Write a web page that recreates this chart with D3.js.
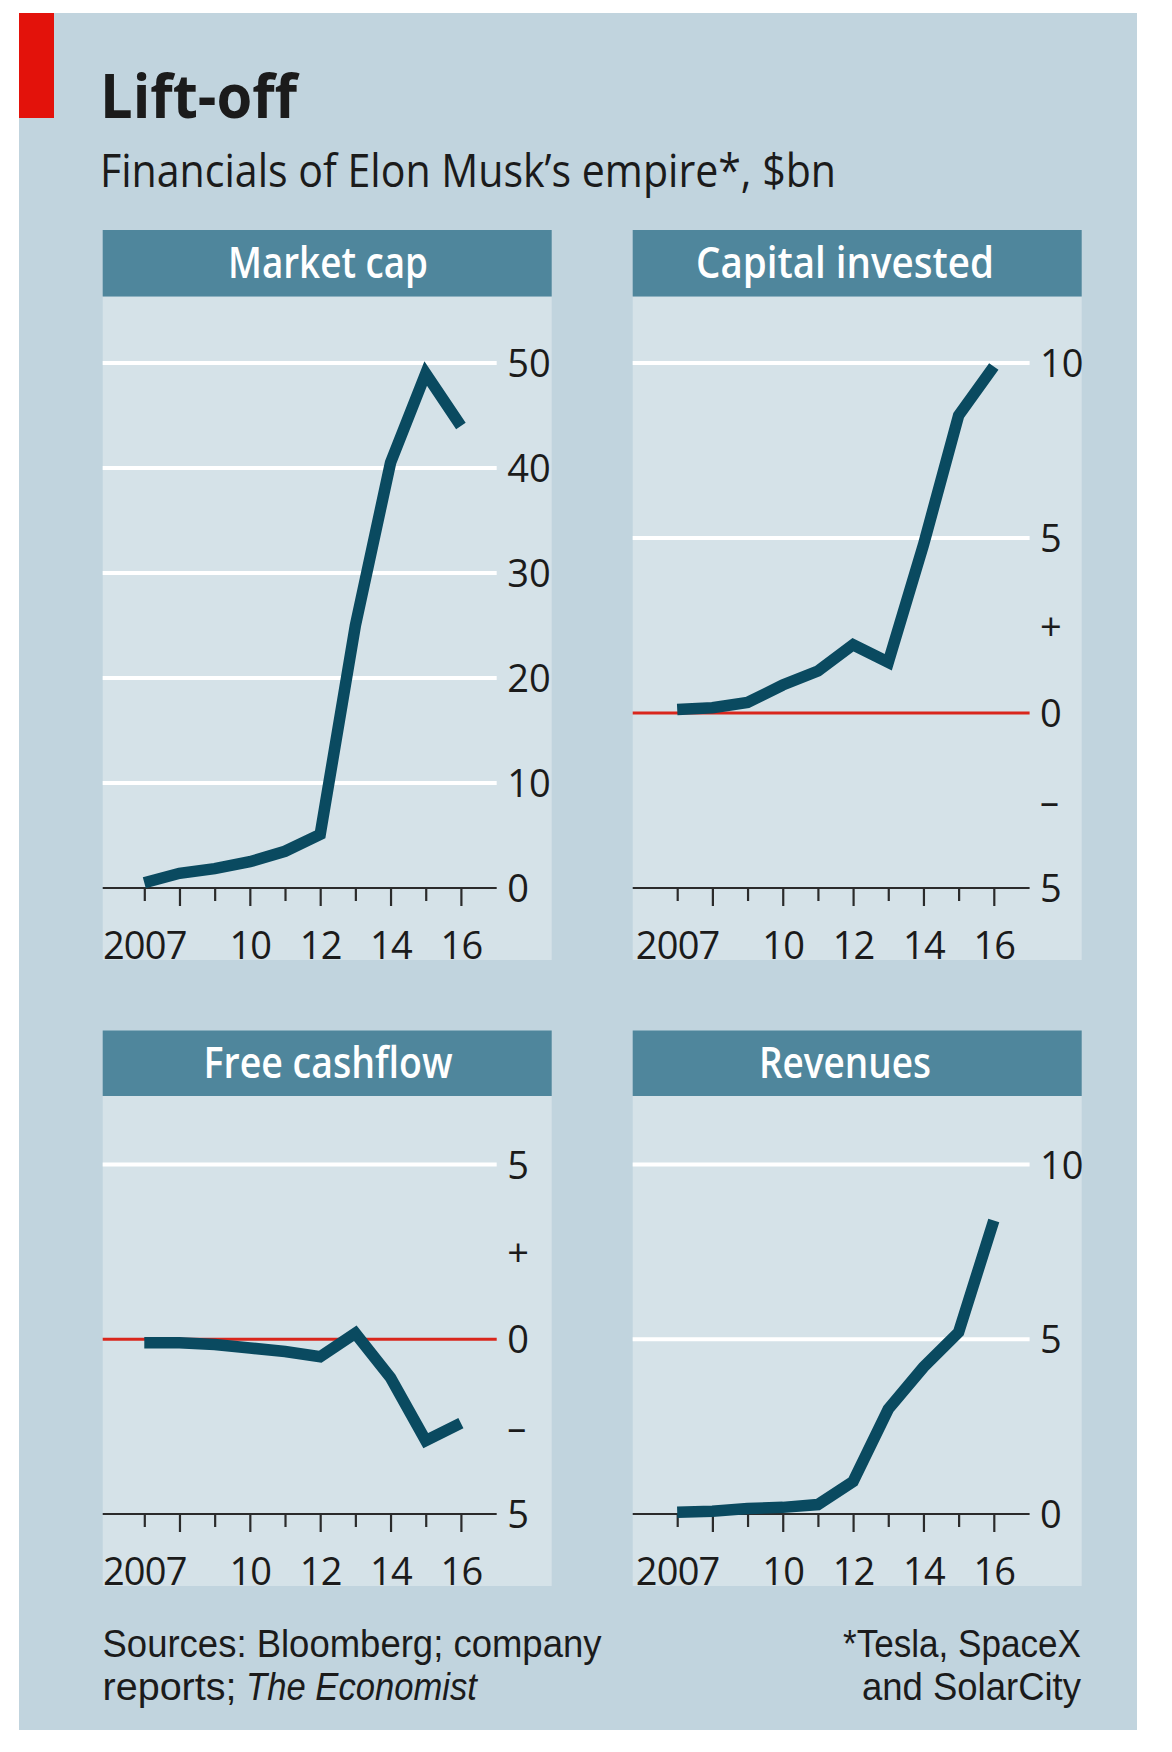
<!DOCTYPE html>
<html>
<head>
<meta charset="utf-8">
<script src="https://cdn.jsdelivr.net/npm/d3@7"></script>
<style>
  body { margin: 0; background: #ffffff; }
  svg { display: block; }
  text { font-family: "Open Sans", "Noto Sans", sans-serif; }
  text.foot { font-family: "Liberation Sans", Arial, sans-serif; }
</style>
</head>
<body>
<svg id="chart" width="1172" height="1752"></svg>
<script>
// ---------------- DATA ----------------
const years = [2007, 2008, 2009, 2010, 2011, 2012, 2013, 2014, 2015, 2016];
const yearLabels = {2007: "2007", 2010: "10", 2012: "12", 2014: "14", 2016: "16"};

const marketCap       = [0.5, 1.4, 1.85, 2.5, 3.5, 5.1, 25, 40.5, 49, 44];
const capitalInvested = [0.1, 0.15, 0.3, 0.8, 1.2, 1.95, 1.45, 4.8, 8.5, 9.9];
const freeCashflow    = [-0.1, -0.1, -0.15, -0.25, -0.35, -0.5, 0.17, -1.1, -2.9, -2.4];
const revenues        = [0.05, 0.08, 0.16, 0.19, 0.27, 0.93, 3.0, 4.2, 5.2, 8.4];

const marketCapTicks  = [0, 10, 20, 30, 40, 50];
const marketCapLabels = ["0", "10", "20", "30", "40", "50"];
const capitalTicks    = [-5, -2.5, 0, 2.5, 5, 10];
const capitalLabels   = ["5", "\u2013", "0", "+", "5", "10"];
const cashflowTicks   = [-5, -2.5, 0, 2.5, 5];
const cashflowLabels  = ["5", "\u2013", "0", "+", "5"];
const revenueTicks    = [0, 5, 10];
const revenueLabels   = ["0", "5", "10"];

const titleText    = "Lift-off";
const subtitleText = "Financials of Elon Musk\u2019s empire*, $bn";

// ---------------- STYLE / LAYOUT ----------------
const C = {
  outer: "#c1d4de", plot: "#d5e2e8", header: "#4f869c",
  line: "#0a4a60", red: "#e3120b", zero: "#d9261c", text: "#1b1b1b", axis: "#2b2b2b"
};
const cols = [
  {px: 102.7, cx: 102.7, hcx: 328},
  {px: 632.7, cx: 635.6, hcx: 845}
];
const rows = [
  {hy: 230, hb: 296.5, pb: 960, yTop: 363, yAxis: 888, tb: 278},
  {hy: 1030.5, hb: 1096, pb: 1586, yTop: 1164.5, yAxis: 1514, tb: 1077.5}
];
const panelW = 449;

const svg = d3.select("#chart");

svg.append("rect").attr("x", 19).attr("y", 13).attr("width", 1118).attr("height", 1717).attr("fill", C.outer);
svg.append("rect").attr("x", 19).attr("y", 13).attr("width", 35).attr("height", 105).attr("fill", C.red);

svg.append("text").attr("x", 100).attr("y", 118).attr("font-size", 60).attr("font-weight", 700)
  .attr("fill", C.text).attr("textLength", 197).attr("lengthAdjust", "spacingAndGlyphs").text(titleText);
svg.append("text").attr("x", 100).attr("y", 187).attr("font-size", 45)
  .attr("fill", C.text).attr("textLength", 736).attr("lengthAdjust", "spacingAndGlyphs").text(subtitleText);

const panels = [
  {name: "Market cap", col: 0, row: 0, values: marketCap, domain: [0, 50],
   ticks: marketCapTicks, labels: marketCapLabels, white: [10, 20, 30, 40, 50], redZero: false, hw: 200},
  {name: "Capital invested", col: 1, row: 0, values: capitalInvested, domain: [-5, 10],
   ticks: capitalTicks, labels: capitalLabels, white: [5, 10], redZero: true, hw: 298},
  {name: "Free cashflow", col: 0, row: 1, values: freeCashflow, domain: [-5, 5],
   ticks: cashflowTicks, labels: cashflowLabels, white: [5], redZero: true, hw: 249},
  {name: "Revenues", col: 1, row: 1, values: revenues, domain: [0, 10],
   ticks: revenueTicks, labels: revenueLabels, white: [5, 10], redZero: false, hw: 172}
];

panels.forEach(p => {
  const c = cols[p.col], r = rows[p.row];
  const g = svg.append("g");

  // backgrounds
  g.append("rect").attr("x", c.px).attr("y", r.hb).attr("width", panelW).attr("height", r.pb - r.hb).attr("fill", C.plot);
  g.append("rect").attr("x", c.px).attr("y", r.hy).attr("width", panelW).attr("height", r.hb - r.hy).attr("fill", C.header);
  g.append("text").attr("x", c.hcx).attr("y", r.tb).attr("text-anchor", "middle").attr("font-size", 43)
    .attr("font-weight", 600).attr("fill", "#ffffff")
    .attr("textLength", p.hw).attr("lengthAdjust", "spacingAndGlyphs").text(p.name);

  const x = d3.scaleLinear().domain([2007, 2016]).range([c.cx + 41.6, c.cx + 358.2]);
  const y = d3.scaleLinear().domain(p.domain).range([r.yAxis, r.yTop]);
  const gridEnd = c.cx + 394;

  // white gridlines
  g.selectAll(".grid").data(p.white).join("line")
    .attr("x1", c.px).attr("x2", gridEnd).attr("y1", d => y(d)).attr("y2", d => y(d))
    .attr("stroke", "#ffffff").attr("stroke-width", 4);

  // red zero line
  if (p.redZero) {
    g.append("line").attr("x1", c.px).attr("x2", gridEnd).attr("y1", y(0)).attr("y2", y(0))
      .attr("stroke", C.zero).attr("stroke-width", 2.8);
  }

  // y labels
  g.selectAll(".ylab").data(p.ticks).join("text")
    .attr("x", c.cx + 404.5).attr("y", d => y(d)).attr("dy", "0.37em")
    .attr("font-size", 38).attr("fill", C.text)
    .text((d, i) => p.labels[i]);

  // x axis
  const xAxis = d3.axisBottom(x).tickValues(years).tickSize(13).tickPadding(0)
    .tickFormat(d => yearLabels[d] || "");
  const ax = g.append("g").attr("transform", `translate(0,${r.yAxis})`).call(xAxis);
  ax.select(".domain").remove();
  ax.selectAll(".tick line").attr("stroke", C.axis).attr("stroke-width", 2.2)
    .attr("y2", d => (d % 2 === 0 ? 18 : 13));
  ax.selectAll(".tick text").attr("y", 71).attr("dy", 0).attr("fill", C.text)
    .attr("font-size", 38).attr("letter-spacing", -0.8);

  // axis baseline
  g.append("line").attr("x1", c.px).attr("x2", gridEnd).attr("y1", r.yAxis).attr("y2", r.yAxis)
    .attr("stroke", C.axis).attr("stroke-width", 2.2);

  // data line
  const line = d3.line().x((d, i) => x(years[i])).y(d => y(d));
  g.append("path").datum(p.values).attr("d", line).attr("fill", "none")
    .attr("stroke", C.line).attr("stroke-width", 11.5).attr("stroke-linejoin", "miter").attr("stroke-miterlimit", 4);
});

// footer
const foot = svg.append("g").attr("font-size", 38).attr("fill", C.text);
foot.append("text").attr("class", "foot").attr("x", 102.5).attr("y", 1657)
  .attr("textLength", 499).attr("lengthAdjust", "spacingAndGlyphs").text("Sources: Bloomberg; company");
foot.append("text").attr("class", "foot").attr("x", 102.5).attr("y", 1700)
  .attr("textLength", 134).attr("lengthAdjust", "spacingAndGlyphs").text("reports;");
foot.append("text").attr("class", "foot").attr("x", 246).attr("y", 1700).attr("font-style", "italic")
  .attr("textLength", 231).attr("lengthAdjust", "spacingAndGlyphs").text("The Economist");
foot.append("text").attr("class", "foot").attr("x", 1081).attr("y", 1657).attr("text-anchor", "end")
  .attr("textLength", 238).attr("lengthAdjust", "spacingAndGlyphs").text("*Tesla, SpaceX");
foot.append("text").attr("class", "foot").attr("x", 1081).attr("y", 1700).attr("text-anchor", "end")
  .attr("textLength", 219).attr("lengthAdjust", "spacingAndGlyphs").text("and SolarCity");
</script>
</body>
</html>
